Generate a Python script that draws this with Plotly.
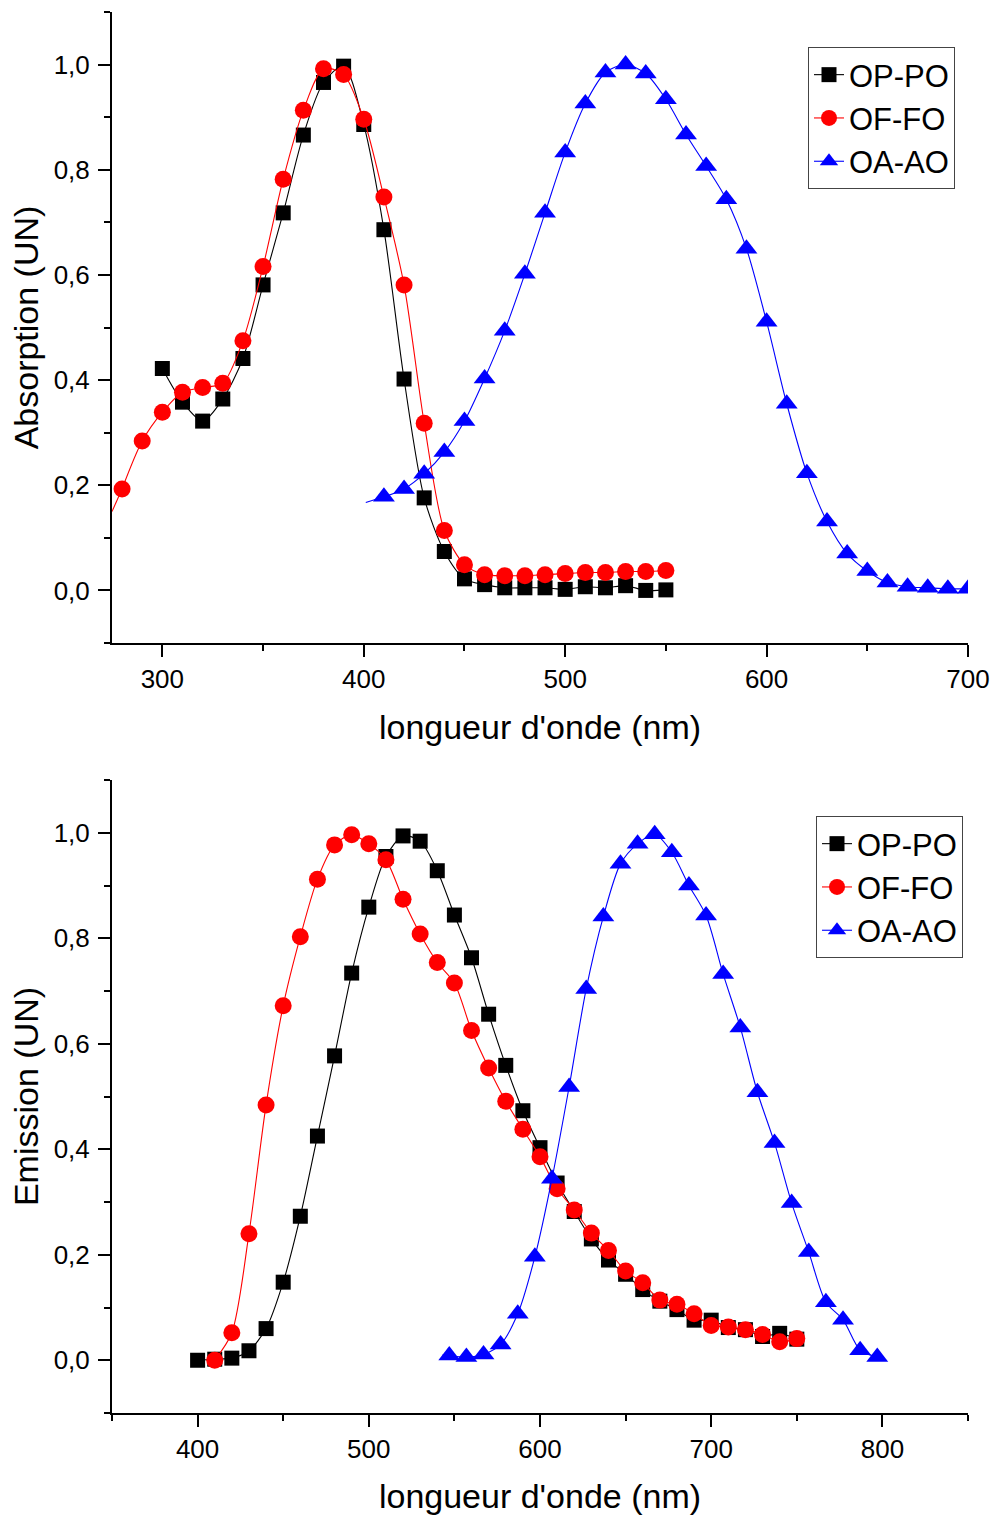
import plotly.graph_objects as go

# ---------------- Absorption (top) ----------------
abs_oppo_x = [300, 310, 320, 330, 340, 350, 360, 370, 380, 390, 400, 410, 420, 430, 440,
              450, 460, 470, 480, 490, 500, 510, 520, 530, 540, 550]
abs_oppo_y = [0.422, 0.358, 0.322, 0.364, 0.441, 0.581, 0.718, 0.866, 0.966, 0.997, 0.886,
              0.686, 0.402, 0.176, 0.074, 0.022, 0.011, 0.005, 0.005, 0.005, 0.002, 0.007,
              0.005, 0.009, 0.000, 0.001]

abs_offo_x = [280, 290, 300, 310, 320, 330, 340, 350, 360, 370, 380, 390, 400, 410, 420,
              430, 440, 450, 460, 470, 480, 490, 500, 510, 520, 530, 540, 550]
abs_offo_y = [0.193, 0.284, 0.339, 0.377, 0.386, 0.394, 0.475, 0.616, 0.782, 0.913, 0.992,
              0.981, 0.896, 0.748, 0.581, 0.318, 0.114, 0.049, 0.030, 0.028, 0.028, 0.030,
              0.032, 0.034, 0.034, 0.036, 0.036, 0.038]
abs_offo_tail_x = [275, 280]
abs_offo_tail_y = [0.150, 0.193]

abs_oaao_x = [410, 420, 430, 440, 450, 460, 470, 480, 490, 500, 510, 520, 530, 540, 550,
              560, 570, 580, 590, 600, 610, 620, 630, 640, 650, 660, 670, 680, 690, 700]
abs_oaao_y = [0.178, 0.193, 0.222, 0.263, 0.322, 0.403, 0.494, 0.602, 0.718, 0.833, 0.926,
              0.985, 1.000, 0.983, 0.934, 0.867, 0.807, 0.744, 0.650, 0.511, 0.355, 0.223,
              0.131, 0.070, 0.037, 0.015, 0.007, 0.005, 0.003, 0.003]
abs_oaao_tail_x = [401, 410]
abs_oaao_tail_y = [0.167, 0.178]

# ---------------- Emission (bottom) ----------------
em_oppo_x = [400, 410, 420, 430, 440, 450, 460, 470, 480, 490, 500, 510, 520, 530, 540, 550,
             560, 570, 580, 590, 600, 610, 620, 630, 640, 650, 660, 670, 680, 690, 700, 710,
             720, 730, 740, 750]
em_oppo_y = [0.000, 0.002, 0.004, 0.018, 0.060, 0.148, 0.273, 0.425, 0.577, 0.734, 0.859,
             0.955, 0.994, 0.984, 0.928, 0.844, 0.763, 0.656, 0.559, 0.473, 0.403, 0.336,
             0.282, 0.230, 0.190, 0.163, 0.134, 0.112, 0.096, 0.076, 0.076, 0.062, 0.058,
             0.045, 0.051, 0.040]

em_offo_x = [410, 420, 430, 440, 450, 460, 470, 480, 490, 500, 510, 520, 530, 540, 550, 560,
             570, 580, 590, 600, 610, 620, 630, 640, 650, 660, 670, 680, 690, 700, 710, 720,
             730, 740, 750]
em_offo_y = [0.000, 0.052, 0.240, 0.484, 0.672, 0.803, 0.912, 0.977, 0.996, 0.979, 0.949,
             0.874, 0.808, 0.754, 0.715, 0.625, 0.554, 0.491, 0.438, 0.386, 0.325, 0.285,
             0.241, 0.208, 0.169, 0.147, 0.114, 0.106, 0.088, 0.066, 0.063, 0.058, 0.049,
             0.035, 0.041]

em_oaao_x = [547, 557, 567, 577, 587, 597, 607, 617, 627, 637, 647, 657, 667, 677, 687, 697,
             707, 717, 727, 737, 747, 757, 767, 777, 787, 797]
em_oaao_y = [0.009, 0.006, 0.011, 0.030, 0.088, 0.196, 0.344, 0.518, 0.704, 0.841, 0.941,
             0.979, 0.997, 0.963, 0.900, 0.843, 0.732, 0.631, 0.508, 0.412, 0.298, 0.205,
             0.110, 0.077, 0.019, 0.006]
em_oaao_tail_start_x = [543, 547]
em_oaao_tail_start_y = [0.010, 0.009]
em_oaao_tail_end_x = [797, 800]
em_oaao_tail_end_y = [0.006, 0.000]

series_names = ["OP-PO", "OF-FO", "OA-AO"]
tick_x_top = [300, 400, 500, 600, 700]
tick_x_bot = [400, 500, 600, 700, 800]

FONT = "Liberation Sans, Arial, sans-serif"
W, H = 995, 1515

BLACK = "#000000"
RED = "#ff0000"
BLUE = "#0000ff"

fig = go.Figure()


def add_series(x, y, name, color, symbol, size, xa, ya, legend):
    fig.add_trace(go.Scatter(
        x=x, y=y, name=name, mode="lines+markers",
        line=dict(color=color, width=1.1, shape="spline", smoothing=0.8),
        marker=dict(color=color, symbol=symbol, size=size, line=dict(width=0)),
        xaxis=xa, yaxis=ya, legend=legend,
    ))


def add_tail(x, y, color, xa, ya):
    fig.add_trace(go.Scatter(
        x=x, y=y, mode="lines", showlegend=False, hoverinfo="skip",
        line=dict(color=color, width=1.1),
        xaxis=xa, yaxis=ya,
    ))


# top
add_tail(abs_offo_tail_x, abs_offo_tail_y, RED, "x", "y")
add_tail(abs_oaao_tail_x, abs_oaao_tail_y, BLUE, "x", "y")
add_series(abs_oppo_x, abs_oppo_y, series_names[0], BLACK, "square", 15, "x", "y", "legend")
add_series(abs_offo_x, abs_offo_y, series_names[1], RED, "circle", 17, "x", "y", "legend")
add_series(abs_oaao_x, abs_oaao_y, series_names[2], BLUE, "triangle-up", 19, "x", "y", "legend")

# bottom
add_tail(em_oaao_tail_start_x, em_oaao_tail_start_y, BLUE, "x2", "y2")
add_tail(em_oaao_tail_end_x, em_oaao_tail_end_y, BLUE, "x2", "y2")
add_series(em_oppo_x, em_oppo_y, series_names[0], BLACK, "square", 15, "x2", "y2", "legend2")
add_series(em_offo_x, em_offo_y, series_names[1], RED, "circle", 17, "x2", "y2", "legend2")
add_series(em_oaao_x, em_oaao_y, series_names[2], BLUE, "triangle-up", 19, "x2", "y2", "legend2")


def px_x(p):
    return p / W


def px_y(p):
    return 1 - p / H


x_dom = [px_x(112), px_x(968)]
top_dom = [px_y(643), px_y(12)]
bot_dom = [px_y(1413), px_y(780)]

axis_common = dict(
    showline=True, linecolor="black", linewidth=2, mirror=False,
    ticks="outside", ticklen=12, tickwidth=2, tickcolor="black",
    showgrid=False, zeroline=False, automargin=False,
    tickfont=dict(family=FONT, size=26, color="black"),
    title_font=dict(family=FONT, size=34, color="black"),
)

minor_x = dict(dtick=50, ticks="outside", ticklen=6, tickwidth=2, tickcolor="black", showgrid=False)
minor_y = dict(dtick=0.1, ticks="outside", ticklen=6, tickwidth=2, tickcolor="black", showgrid=False)

legend_common = dict(
    xanchor="right", yanchor="top",
    bordercolor="#444444", borderwidth=1, bgcolor="white",
    font=dict(family=FONT, size=31, color="black"),
    tracegroupgap=0,
)

fig.update_layout(
    width=W, height=H,
    margin=dict(l=0, r=0, t=0, b=0),
    paper_bgcolor="white", plot_bgcolor="white",
    separators=", ",
    font=dict(family=FONT, color="black"),
    xaxis=dict(domain=x_dom, anchor="y", range=[275, 700], tickvals=tick_x_top,
               ticklabeloverflow="allow",
               title=dict(text="longueur d'onde (nm)", standoff=22), minor=minor_x, **axis_common),
    yaxis=dict(domain=top_dom, anchor="x", range=[-0.1, 1.1], tick0=0, dtick=0.2, tickformat=".1f",
               ticklabelstandoff=3,
               title=dict(text="Absorption (UN)", standoff=5), minor=minor_y, **axis_common),
    xaxis2=dict(domain=x_dom, anchor="y2", range=[350, 850], tickvals=tick_x_bot,
                ticklabeloverflow="allow",
                title=dict(text="longueur d'onde (nm)", standoff=22), minor=minor_x, **axis_common),
    yaxis2=dict(domain=bot_dom, anchor="x2", range=[-0.1, 1.1], tick0=0, dtick=0.2, tickformat=".1f",
                ticklabelstandoff=3,
                title=dict(text="Emission (UN)", standoff=5), minor=minor_y, **axis_common),
    legend=dict(x=px_x(955), y=px_y(47), **legend_common),
    legend2=dict(x=px_x(963), y=px_y(816), **legend_common),
)

# remove the default page margin so the figure fills the window exactly
page_fix = (
    "document.body.style.margin='0';"
    "document.body.style.overflow='hidden';"
    "document.documentElement.style.overflow='hidden';"
)

fig.write_html("out.html", post_script=page_fix, config={"displayModeBar": False})
